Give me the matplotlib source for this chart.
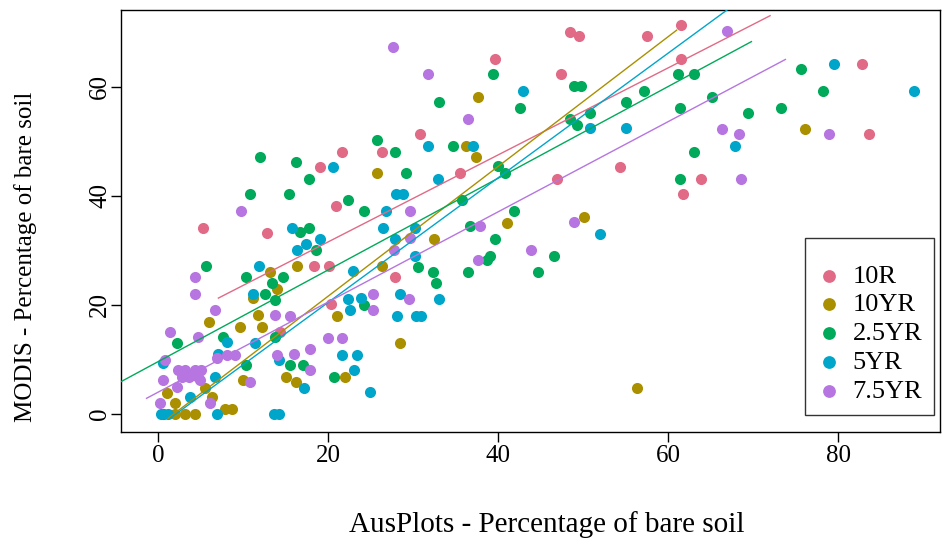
import numpy as np
import matplotlib
matplotlib.use('Agg')
import matplotlib.pyplot as plt

# punkter lest av bildet (AusPlots x, MODIS y) for hver fargeklasse
x_10R = [5.3, 12.8, 14.4, 18.3, 19.1, 20.1, 20.3, 20.9, 21.6, 26.3, 27.9, 30.8, 35.5, 39.6, 46.9, 47.4,
         48.5, 49.5, 54.3, 57.5, 61.5, 61.5, 61.7, 63.9, 82.8, 83.6]
y_10R = [34.2, 33.2, 15.1, 27.2, 45.3, 27.2, 20.1, 38.2, 48.1, 48.1, 25.1, 51.3, 44.2, 65.2, 43.1, 62.4,
         70.1, 69.4, 45.3, 69.4, 71.3, 65.1, 40.3, 43.1, 64.2, 51.3]

x_10YR = [0.6, 2.0, 3.2, 4.4, 1.0, 2.0, 5.5, 6.3, 7.9, 8.7, 10.0, 6.0, 9.6, 11.8, 12.2, 11.2, 14.0, 13.2,
          16.4, 15.0, 16.2, 22.0, 21.0, 28.5, 25.7, 26.4, 32.5, 36.2, 37.4, 37.6, 41.0, 50.1, 56.4, 76.1, 4.4]
y_10YR = [0.0, 0.0, 0.0, 0.0, 3.8, 2.0, 4.7, 3.2, 1.0, 1.0, 6.2, 16.9, 16.0, 18.2, 16.0, 21.2, 23.0, 26.1,
          27.2, 6.8, 5.9, 6.8, 18.0, 13.0, 44.2, 27.2, 32.1, 49.2, 47.2, 58.1, 35.0, 36.1, 4.8, 52.3, 7.2]

x_25YR = [0.6, 2.2, 5.6, 7.7, 10.4, 10.4, 10.8, 12.0, 12.6, 13.4, 13.8, 13.8, 14.7, 15.4, 15.5, 16.2,
          16.7, 17.1, 17.8, 17.8, 18.6, 20.7, 22.3, 24.2, 24.2, 25.8, 27.9, 29.2, 30.6, 32.4, 32.7, 33.1,
          34.7, 35.8, 36.5, 36.7, 38.7, 39.1, 39.4, 39.6, 40.0, 40.8, 41.9, 42.6, 44.7, 46.6, 48.5, 48.9,
          49.3, 49.8, 50.8, 55.1, 57.2, 61.2, 61.4, 61.4, 63.1, 63.1, 65.2, 69.4, 73.3, 75.6, 78.2]
y_25YR = [0.0, 13.0, 27.2, 14.2, 9.0, 25.1, 40.3, 47.2, 22.1, 24.0, 20.9, 14.2, 25.2, 40.3, 9.0, 46.3,
          33.3, 9.0, 43.1, 34.2, 30.1, 6.8, 39.2, 37.2, 20.0, 50.3, 48.1, 44.2, 27.0, 26.1, 24.0, 57.3,
          49.2, 39.2, 26.1, 34.4, 28.3, 29.0, 62.3, 32.1, 45.4, 44.2, 37.2, 56.2, 26.1, 29.0, 54.2, 60.2,
          53.0, 60.2, 55.2, 57.3, 59.2, 62.3, 56.2, 43.1, 62.3, 48.1, 58.1, 55.2, 56.2, 63.2, 59.2]

x_5YR = [0.4, 1.2, 0.6, 3.8, 6.7, 6.9, 7.1, 8.1, 11.2, 11.4, 11.9, 13.6, 14.2, 14.2, 15.8, 16.4, 17.2,
         17.4, 19.1, 20.6, 21.6, 22.4, 22.6, 22.9, 23.0, 23.4, 23.9, 24.9, 26.5, 26.8, 27.9, 28.0, 28.1,
         28.5, 28.8, 30.2, 30.2, 30.4, 30.9, 31.8, 32.9, 33.0, 37.0, 42.9, 50.8, 52.0, 55.0, 67.9, 79.5, 88.9]
y_5YR = [0.0, 0.0, 9.3, 3.2, 6.8, 0.0, 11.1, 13.3, 22.1, 13.0, 27.2, 0.0, 0.0, 9.9, 34.2, 30.1, 4.8,
         31.1, 32.1, 45.3, 10.8, 21.1, 19.0, 26.3, 8.1, 10.8, 21.2, 4.0, 34.2, 37.2, 32.1, 40.3, 18.0,
         22.1, 40.3, 34.2, 29.0, 18.0, 18.0, 49.2, 43.1, 21.1, 49.2, 59.2, 52.4, 33.1, 52.4, 49.2, 64.2, 59.2]

x_75YR = [0.2, 0.6, 0.8, 1.4, 2.2, 2.4, 2.8, 3.2, 3.6, 4.3, 4.3, 4.4, 4.7, 4.7, 4.9, 5.1, 6.1, 6.7, 6.9,
          8.1, 9.1, 9.8, 10.8, 13.8, 14.0, 15.5, 16.0, 17.9, 17.9, 20.0, 21.6, 25.3, 25.3, 27.6, 27.7,
          29.5, 29.6, 29.6, 31.8, 36.5, 37.6, 37.9, 43.9, 48.9, 66.4, 66.9, 68.3, 68.6, 78.9]
y_75YR = [2.0, 6.2, 9.9, 15.1, 5.0, 8.1, 6.8, 8.1, 6.8, 25.1, 22.1, 8.1, 6.8, 14.2, 6.2, 8.1, 2.0, 19.0,
          10.2, 10.8, 10.8, 37.2, 5.9, 18.2, 10.8, 18.0, 11.0, 11.9, 8.1, 14.0, 14.0, 22.1, 19.0, 67.3,
          30.1, 21.1, 37.2, 32.2, 62.3, 54.1, 28.3, 34.4, 30.1, 35.2, 52.3, 70.2, 51.3, 43.1, 51.3]

klasser = ['10R', '10YR', '2.5YR', '5YR', '7.5YR']
farger = ['#E16A86', '#AA9000', '#00AA5A', '#00A6CA', '#B675E0']

# regresjonslinjer: skjaering, stigning og x-omraade lest av bildet
skjaering = [15.6, -2.2, 9.6, -2.4, 4.0]
stigning = [0.798, 1.19, 0.841, 1.143, 0.827]
x_fra = [7.1, 1.2, -5.0, 1.4, -1.35]
x_til = [72.0, 61.0, 69.8, 68.5, 73.8]

plt.rcParams['font.family'] = ['Liberation Serif', 'DejaVu Serif']

fig = plt.figure(figsize=(9.42, 5.47), dpi=100)
ax = fig.add_axes([0.1285, 0.2102, 0.8695, 0.7715])

data_x = [x_10R, x_10YR, x_25YR, x_5YR, x_75YR]
data_y = [y_10R, y_10YR, y_25YR, y_5YR, y_75YR]
for i in range(len(klasser)):
    ax.scatter(data_x[i], data_y[i], s=64, color=farger[i], linewidths=0, label=klasser[i], zorder=2)

for i in range(len(klasser)):
    xs = np.array([x_fra[i], x_til[i]])
    ax.plot(xs, skjaering[i] + stigning[i] * xs, color=farger[i], lw=1, zorder=3)

ax.set_xlim(-4.35, 92.0)
ax.set_ylim(-3.3, 74.1)
ax.set_xticks([0, 20, 40, 60, 80])
ax.set_yticks([0, 20, 40, 60])
ax.tick_params(direction='out', length=7, width=1, labelsize=18)
ax.tick_params(axis='x', pad=2)
ax.tick_params(axis='y', pad=0)
for lab in ax.get_yticklabels():
    lab.set_rotation(90)
    lab.set_va('center')
for sp in ax.spines.values():
    sp.set_linewidth(1)

ax.set_xlabel('AusPlots - Percentage of bare soil', fontsize=21)
ax.set_ylabel('MODIS - Percentage of bare soil', fontsize=18)
ax.xaxis.set_label_coords(0.52, -0.22)
ax.yaxis.set_label_coords(-0.117, 0.415)
ax.xaxis.label.set_va('center')
ax.yaxis.label.set_va('center')

# tom tittel gir litt ekstra luft over foerste rad, som i R
leg = ax.legend(loc='upper left', bbox_to_anchor=(805 / 942, 1 - 238 / 547), bbox_transform=fig.transFigure,
                fontsize=19, frameon=True, fancybox=False, edgecolor='black', markerscale=1.15,
                borderpad=0.45, labelspacing=0.2, handlelength=0.9, handletextpad=0.45, borderaxespad=0,
                title=' ', title_fontproperties={'size': 8})
leg.get_frame().set_linewidth(1)

plt.savefig('out.png', dpi=100)
